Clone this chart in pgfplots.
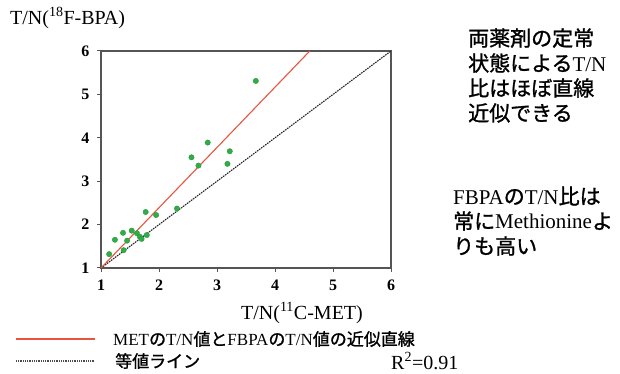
\documentclass[border=0pt]{standalone}
\usepackage{pgfplots}
\pgfplotsset{compat=1.18}
\usepackage{fontspec}
\setmainfont{Liberation Serif}
\newfontfamily\cjk[FakeBold=1.2]{Noto Sans CJK JP}
\definecolor{fitred}{RGB}{232,84,64}
\definecolor{dotgreen}{RGB}{45,175,70}
\definecolor{framegray}{RGB}{85,85,85}
\pgfplotstableread{
x y
1.14 1.32
1.24 1.65
1.38 1.81
1.39 1.41
1.45 1.63
1.53 1.86
1.62 1.80
1.67 1.72
1.70 1.67
1.79 1.76
1.77 2.29
1.95 2.22
2.31 2.37
2.56 3.55
2.68 3.36
2.84 3.89
3.18 3.40
3.22 3.69
3.67 5.31
}\pts
\begin{document}
\begin{tikzpicture}
\useasboundingbox (0pt,0pt) rectangle (620pt,374pt);
\begin{axis}[
  at={(101pt,106pt)}, anchor=south west,
  width=290pt, height=217pt, scale only axis,
  xmin=1, xmax=6, ymin=1, ymax=6,
  xtick={1,2,3,4,5,6}, ytick={1,2,3,4,5,6},
  tick pos=left, tick align=outside, major tick length=4pt,
  axis line style={framegray, line width=1.3pt},
  tick style={framegray, line width=1pt},
  /pgf/number format/assume math mode=true,
  tick label style={font=\fontsize{16}{16}\selectfont\bfseries},
  xticklabel style={yshift=-4pt},
  yticklabel style={xshift=-4pt},
  clip=false,
]
\addplot[black!85, line width=1.1pt, dash pattern=on 1.6pt off 0.9pt] coordinates {(1,1) (6,6)};
\addplot[fitred, line width=1.1pt] coordinates {(1,1) (4.6,6)};
\addplot[only marks, mark=*, mark size=2.7pt, mark options={fill=dotgreen, draw=dotgreen!80!black, line width=0.3pt}] table[x=x,y=y] {\pts};
\end{axis}
% axis titles
\node[anchor=west, font=\fontsize{20}{20}\selectfont, inner sep=0pt] at (10pt,356pt) {T/N(\textsuperscript{18}F-BPA)};
\node[font=\fontsize{20}{20}\selectfont, inner sep=0pt] at (302pt,61pt) {T/N(\textsuperscript{11}C-MET)};
% annotations
\begin{scope}[every node/.style={anchor=west, inner sep=0pt, font=\fontsize{21}{21}\selectfont}]
\node at (468pt,336pt) {\cjk 両薬剤の定常};
\node at (468pt,311pt) {{\cjk 状態による}T/N};
\node at (468pt,286pt) {\cjk 比はほぼ直線};
\node at (468pt,261pt) {\cjk 近似できる};
\node at (453pt,178pt) {FBPA{\cjk の}T/N{\cjk 比は}};
\node at (453pt,153pt) {{\cjk 常に}Methionine{\cjk よ}};
\node at (453pt,128pt) {\cjk りも高い};
\end{scope}
% legend
\draw[draw=fitred, line width=2pt] (16pt,35pt) -- (95pt,35pt);
\draw[draw=black!70, line width=1.2pt, dash pattern=on 1pt off 0.8pt] (16pt,13pt) -- (95pt,13pt);
\begin{scope}[every node/.style={anchor=west, inner sep=0pt, font=\fontsize{17}{17}\selectfont}]
\node at (113pt,35pt) {MET{\cjk の}T/N{\cjk 値と}FBPA{\cjk の}T/N{\cjk 値の近似直線}};
\node at (115pt,13pt) {\cjk 等値ライン};
\end{scope}
\node[anchor=west, inner sep=0pt, font=\fontsize{20}{20}\selectfont] at (391pt,13pt) {R\textsuperscript{2}=0.91};
\end{tikzpicture}
\end{document}
